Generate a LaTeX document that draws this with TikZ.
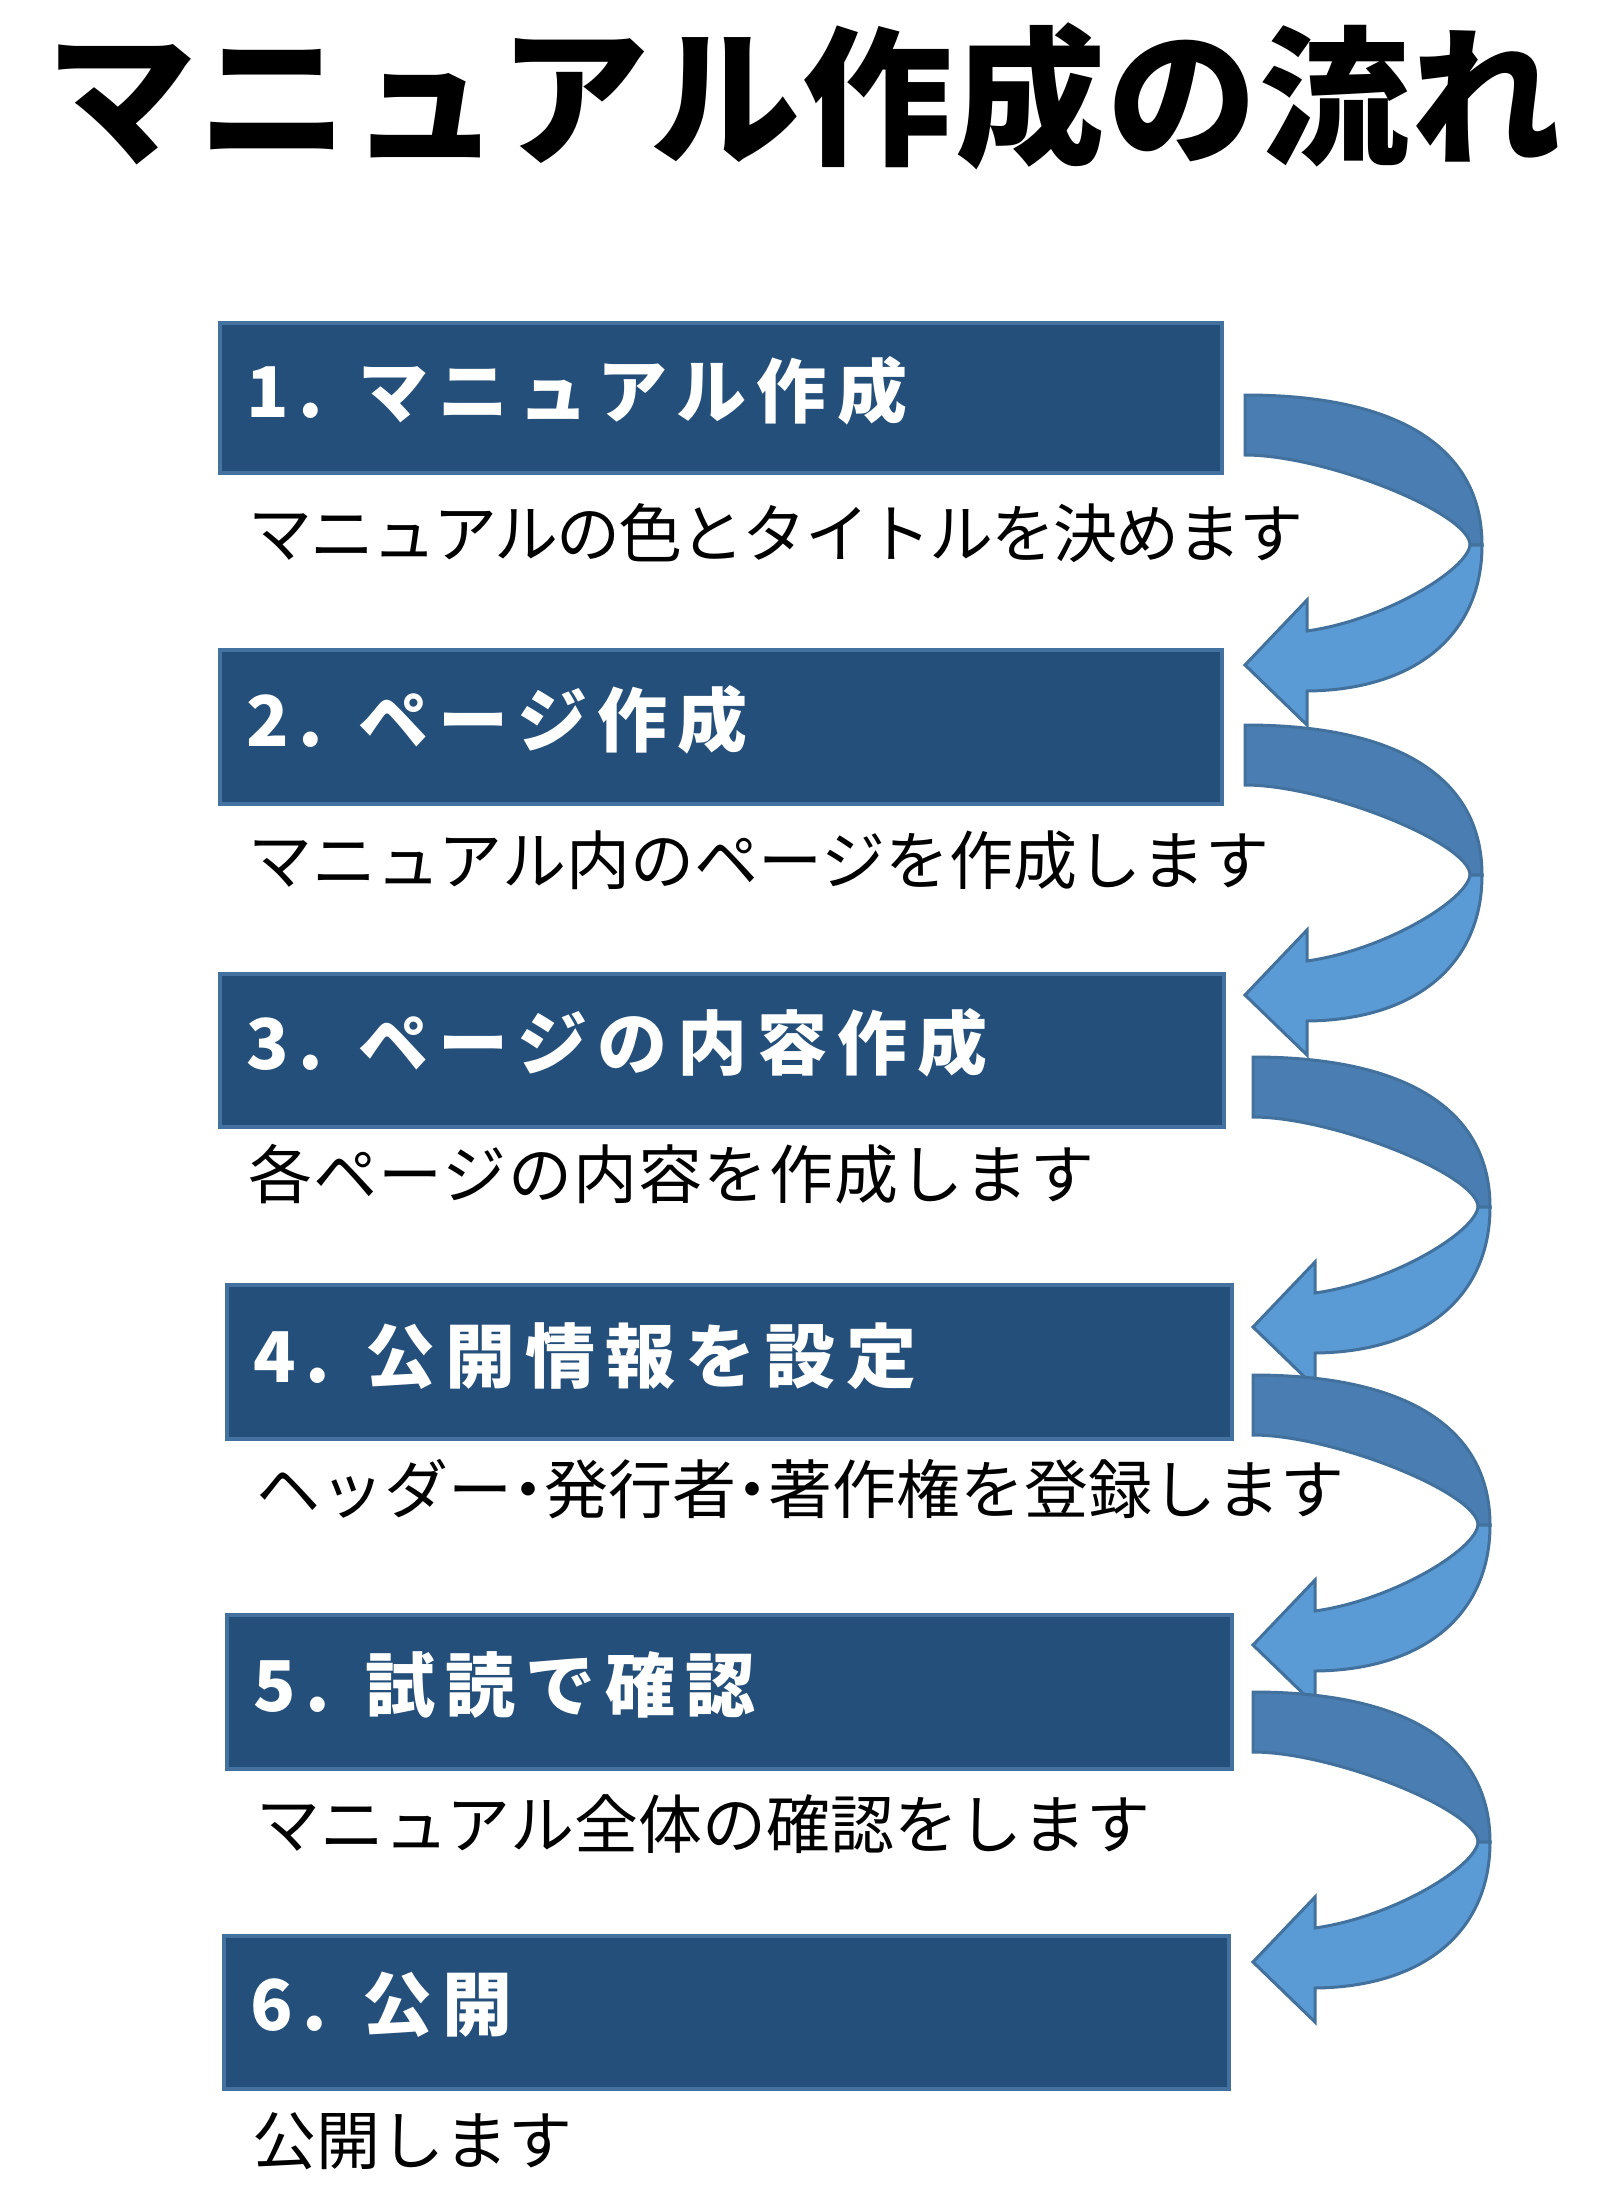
\documentclass[tikz,border=0pt]{standalone}
\usepackage{fontspec}
\setmainfont{Noto Sans CJK JP}
\newfontfamily\headfont[LetterSpace=14.5]{Noto Sans CJK JP}
\newfontfamily\titlefont[LetterSpace=1.5]{Noto Sans CJK JP}
\definecolor{boxfill}{HTML}{234F7A}
\definecolor{boxline}{HTML}{4472A0}
\definecolor{arrback}{HTML}{4A7EB2}
\definecolor{arrfront}{HTML}{5B9BD5}
\definecolor{arrline}{HTML}{41719C}
\tikzset{arrpart/.style={draw=arrline, line width=3pt, line join=miter}}
\newcommand\curvarrow[2]{%
\begin{scope}[shift={(#1,#2)}]
\filldraw[arrpart, fill=arrback]
  (0,-150) .. controls (154,-150) and (237,-97) .. (237,0)
  -- (225,0) .. controls (225,-32) and (80,-90) .. (0,-90) -- cycle;
\filldraw[arrpart, fill=arrfront]
  (225,0) .. controls (222,25) and (140,75) .. (62,86)
  -- (62,55) -- (0,120) -- (62,180) -- (62,146)
  .. controls (170,145) and (237,90) .. (237,0) -- cycle;
\end{scope}}
\begin{document}
\begin{tikzpicture}[x=1pt,y=-1pt,
  box/.style={draw=boxline, line width=4pt, fill=boxfill, inner sep=0pt, anchor=north west},
  head/.style={anchor=west, inner sep=0pt, text=white, font=\headfont\bfseries\fontsize{70}{70}\selectfont},
  desc/.style={anchor=west, inner sep=0pt, text=black, font=\fontsize{64}{64}\selectfont},
  ttl/.style={anchor=west, inner sep=0pt, text=black, font=\titlefont\bfseries\fontsize{150}{150}\selectfont}]
\fill[white] (0,0) rectangle (1600,2205);
\useasboundingbox (0,0) rectangle (1600,2205);

\node[ttl] (title) at (46,96) {マニュアル作成の流れ};

\node[box, minimum width=1002pt, minimum height=150pt] (b1) at (218,321) {};
\node[box, minimum width=1002pt, minimum height=154pt] (b2) at (218,648) {};
\node[box, minimum width=1004pt, minimum height=153pt] (b3) at (218,972) {};
\node[box, minimum width=1005pt, minimum height=154pt] (b4) at (225,1283) {};
\node[box, minimum width=1005pt, minimum height=154pt] (b5) at (225,1613) {};
\node[box, minimum width=1005pt, minimum height=153pt] (b6) at (222,1934) {};

\node[head] (h1) at (246,391) {\makebox[112pt][l]{1.}マニュアル作成};
\node[head] (h2) at (246,720) {\makebox[112pt][l]{2.}ページ作成};
\node[head] (h3) at (246,1043) {\makebox[112pt][l]{3.}ページの内容作成};
\node[head] (h4) at (253,1356) {\makebox[112pt][l]{4.}公開情報を設定};
\node[head] (h5) at (253,1685) {\makebox[112pt][l]{5.}試読で確認};
\node[head] (h6) at (250,2005) {\makebox[112pt][l]{6.}公開};

\node[desc] (d1) at (248,533) {\addfontfeature{LetterSpace=-3}マニュアルの色とタイトルを決めます};
\node[desc] (d2) at (248,860) {マニュアル内のページを作成します};
\node[desc] (d3) at (248,1174) {\addfontfeature{LetterSpace=2}各ページの内容を作成します};
\node[desc] (d4) at (256,1489) {ヘッダー\makebox[32pt]{・}発行者\makebox[32pt]{・}著作権を登録します};
\node[desc] (d5) at (256,1824) {マニュアル全体の確認をします};
\node[desc] (d6) at (252,2141) {公開します};

\curvarrow{1245}{545}
\curvarrow{1245}{875}
\curvarrow{1253}{1207}
\curvarrow{1253}{1525}
\curvarrow{1253}{1842}
\end{tikzpicture}
\end{document}
